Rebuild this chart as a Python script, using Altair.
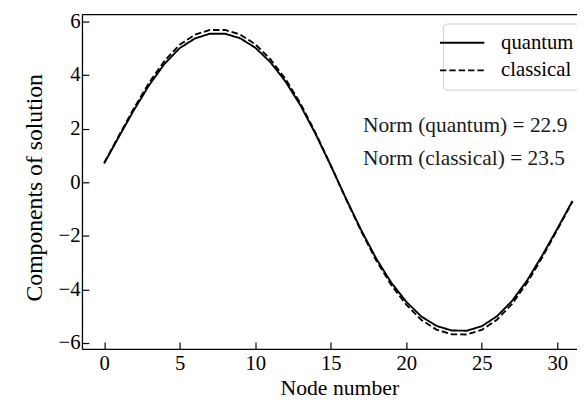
import altair as alt
import pandas as pd

nodes = list(range(32))
quantum = [0.70, 1.72, 2.72, 3.64, 4.42, 5.00, 5.36, 5.54, 5.54, 5.37, 5.02, 4.48, 3.76, 2.86, 1.79, 0.62,
           -0.60, -1.77, -2.84, -3.74, -4.46, -5.01, -5.36, -5.53, -5.54, -5.37, -5.00, -4.43, -3.66, -2.73, -1.73, -0.70]
classical = [0.72, 1.76, 2.79, 3.73, 4.53, 5.13, 5.50, 5.68, 5.68, 5.51, 5.15, 4.59, 3.85, 2.93, 1.83, 0.63,
             -0.62, -1.81, -2.91, -3.83, -4.57, -5.14, -5.50, -5.67, -5.68, -5.51, -5.13, -4.54, -3.75, -2.80, -1.77, -0.72]
series_names = ["quantum", "classical"]
x_ticks = [0, 5, 10, 15, 20, 25, 30]
y_ticks = [-6, -4, -2, 0, 2, 4, 6]
norm_labels = ["Norm (quantum) = 22.9", "Norm (classical) = 23.5"]
norm_x = [17.13, 17.13]
norm_y = [1.88, 0.64]

FONT = "Liberation Serif"

df = pd.DataFrame({
    "node": nodes + nodes,
    "value": quantum + classical,
    "series": [series_names[0]] * len(nodes) + [series_names[1]] * len(nodes),
})
ann = pd.DataFrame({"node": norm_x, "value": norm_y, "label": norm_labels})

x_axis = alt.Axis(values=x_ticks, title="Node number", grid=False,
                  tickSize={"expr": "-7"}, tickColor="black", tickWidth=1.2,
                  domainColor="black", domainWidth=1.3,
                  labelFont=FONT, labelFontSize=21, labelColor="black", labelPadding=11,
                  titleFont=FONT, titleFontSize=22, titleFontWeight="normal", titleColor="black",
                  titlePadding=4, titleX=261)
y_axis = alt.Axis(values=y_ticks, title="Components of solution", grid=False,
                  tickSize={"expr": "-7"}, tickColor="black", tickWidth=1.2,
                  domainColor="black", domainWidth=1.3,
                  labelFont=FONT, labelFontSize=21, labelColor="black", labelPadding=9,
                  titleFont=FONT, titleFontSize=24, titleFontWeight="normal", titleColor="black",
                  titlePadding=12, titleY=175)

xs = alt.Scale(domain=[-1.47, 31.3], nice=False, zero=False)
ys = alt.Scale(domain=[-6.22, 6.25], nice=False, zero=False)

lines = alt.Chart(df).mark_line(color="black", strokeWidth=1.9).encode(
    x=alt.X("node:Q", scale=xs, axis=x_axis),
    y=alt.Y("value:Q", scale=ys, axis=y_axis),
    strokeDash=alt.StrokeDash(
        "series:N",
        scale=alt.Scale(domain=series_names, range=[[1, 0], [6.5, 3]]),
        legend=alt.Legend(title=None, orient="none", legendX=366, legendY=9,
                          symbolType="M-3,0H3", symbolSize=225, symbolStrokeWidth=1.9,
                          symbolStrokeColor="black",
                          labelFont=FONT, labelFontSize=21, labelColor="black",
                          labelOffset=29, rowPadding=6, padding=9,
                          strokeColor="#cccccc", fillColor="white", cornerRadius=4),
    ),
)

text = alt.Chart(ann).mark_text(align="left", baseline="alphabetic", font=FONT,
                                fontSize=21.7, color="#1a1a1a").encode(
    x="node:Q", y="value:Q", text="label:N"
)

border = alt.Chart(pd.DataFrame({"t": [0]})).mark_rule(color="black", strokeWidth=1.3).encode(
    x=alt.value(0), x2=alt.value("width"), y=alt.value(0)
)

chart = alt.layer(lines, text, border).properties(
    width=502, height=339,
    autosize=alt.AutoSizeParams(type="none"),
    padding={"left": 75, "top": 4, "right": 0, "bottom": 49},
).configure_view(stroke=None)

chart.save("out.html", embed_options={"renderer": "svg", "actions": False})
